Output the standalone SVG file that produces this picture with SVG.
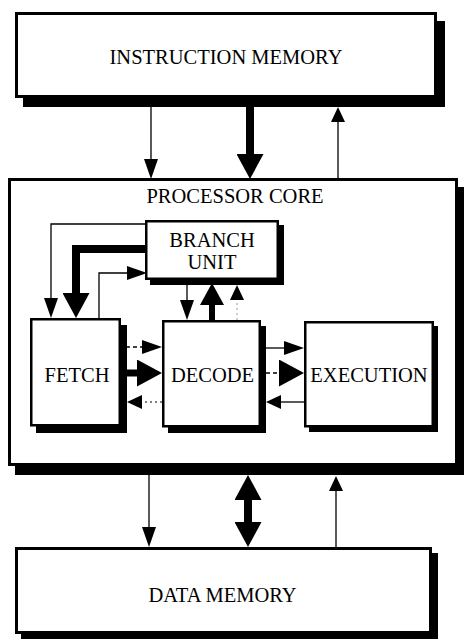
<svg xmlns="http://www.w3.org/2000/svg" width="464" height="641" viewBox="0 0 464 641">
  <style>
    .box { fill: #fff; stroke: #000; stroke-width: 3; }
    .inner { stroke-width: 2.5; }
    .shadow { fill: #000; }
    .label { font-family: "Liberation Serif", "Times New Roman", serif; font-size: 20.5px; fill: #000; text-anchor: middle; }
    .wire { fill: none; stroke: #000; stroke-width: 1.3; stroke-linejoin: miter; }
    .bus { fill: none; stroke: #000; stroke-width: 8; stroke-linejoin: miter; }
    .dash { stroke-dasharray: 4 3; }
    .dot { stroke-dasharray: 2 3; stroke-width: 1; }
    .faint { stroke: #999; }
  </style>
  <defs>
    <!-- arrowheads: base sits on the path end, tip points along the path -->
    <marker id="sm" viewBox="0 0 20 14" markerWidth="20" markerHeight="14" refX="0" refY="7" orient="auto" markerUnits="userSpaceOnUse">
      <path d="M0,0 L20,7 L0,14 z" fill="#000"/>
    </marker>
    <marker id="xs" viewBox="0 0 15 14" markerWidth="15" markerHeight="14" refX="0" refY="7" orient="auto" markerUnits="userSpaceOnUse">
      <path d="M0,0 L15,7 L0,14 z" fill="#000"/>
    </marker>
    <marker id="md" viewBox="0 0 22 24" markerWidth="22" markerHeight="24" refX="0" refY="12" orient="auto" markerUnits="userSpaceOnUse">
      <path d="M0,0 L22,12 L0,24 z" fill="#000"/>
    </marker>
    <marker id="lg" viewBox="0 0 25 27" markerWidth="25" markerHeight="27" refX="0" refY="13.5" orient="auto-start-reverse" markerUnits="userSpaceOnUse">
      <path d="M0,0 L25,13.5 L0,27 z" fill="#000"/>
    </marker>
  </defs>

  <g id="instruction-memory">
    <rect class="shadow" x="23" y="21" width="422" height="86"/>
    <rect class="box" x="16.5" y="13.5" width="419" height="83"/>
    <text class="label" x="226" y="64">INSTRUCTION MEMORY</text>
  </g>

  <g id="processor-core">
    <rect class="shadow" x="15" y="187" width="449" height="288"/>
    <rect class="box" x="9.5" y="179.5" width="447" height="285"/>
    <text class="label" x="235" y="203">PROCESSOR CORE</text>
  </g>

  <g id="branch-unit">
    <rect class="shadow" x="150" y="225" width="134" height="60"/>
    <rect class="box inner" x="146.25" y="221.25" width="131.5" height="57.5"/>
    <text class="label" x="212" y="247">BRANCH</text>
    <text class="label" x="212" y="269">UNIT</text>
  </g>

  <g id="fetch">
    <rect class="shadow" x="36" y="325" width="91" height="108"/>
    <rect class="box inner" x="31.25" y="319.25" width="88.5" height="106"/>
    <text class="label" x="77" y="382">FETCH</text>
  </g>

  <g id="decode">
    <rect class="shadow" x="168" y="326" width="98" height="107"/>
    <rect class="box inner" x="163.25" y="321.25" width="96.5" height="105"/>
    <text class="label" x="212.5" y="382">DECODE</text>
  </g>

  <g id="execution">
    <rect class="shadow" x="309" y="326" width="129" height="106"/>
    <rect class="box inner" x="305.25" y="322.25" width="127.5" height="104"/>
    <text class="label" x="369" y="382">EXECUTION</text>
  </g>

  <g id="data-memory">
    <rect class="shadow" x="21" y="553" width="417" height="86"/>
    <rect class="box" x="16.5" y="548.5" width="414" height="84"/>
    <text class="label" x="222.5" y="602">DATA MEMORY</text>
  </g>

  <g id="connectors">
    <!-- instruction memory <-> core -->
    <path class="wire" d="M151,98 V159" marker-end="url(#sm)"/>
    <path class="bus" d="M250,98 V154" marker-end="url(#lg)"/>
    <path class="wire" d="M338,178 V122" marker-end="url(#xs)"/>

    <!-- branch unit <-> fetch -->
    <path class="wire" d="M146,224 H51 V298" marker-end="url(#sm)"/>
    <path class="bus" d="M146,249 H76 V293" marker-end="url(#lg)"/>
    <path class="wire" d="M99,318 V273 H127" marker-end="url(#sm)"/>

    <!-- branch unit <-> decode -->
    <path class="wire" d="M187,281 V300" marker-end="url(#sm)"/>
    <path class="bus" style="stroke-width:6" d="M212,320 V305" marker-end="url(#md)"/>
    <path class="wire dot faint" d="M237,320 V300" marker-end="url(#xs)"/>

    <!-- fetch <-> decode -->
    <path class="wire dash" d="M126,347 H142" marker-end="url(#sm)"/>
    <path class="bus" style="stroke-width:7" d="M126,373 H137" marker-end="url(#lg)"/>
    <path class="wire dot" d="M162,402 H142" marker-end="url(#xs)"/>

    <!-- decode <-> execution -->
    <path class="wire" d="M266,348 H284" marker-end="url(#sm)"/>
    <path class="wire dash" d="M266,373 H279" marker-end="url(#lg)"/>
    <path class="wire" d="M304,402 H281" marker-end="url(#xs)"/>

    <!-- core <-> data memory -->
    <path class="wire" d="M149,475 V527" marker-end="url(#sm)"/>
    <path class="bus" d="M248,500 V522" marker-start="url(#lg)" marker-end="url(#lg)"/>
    <path class="wire" d="M336,547 V491" marker-end="url(#xs)"/>
  </g>
</svg>
